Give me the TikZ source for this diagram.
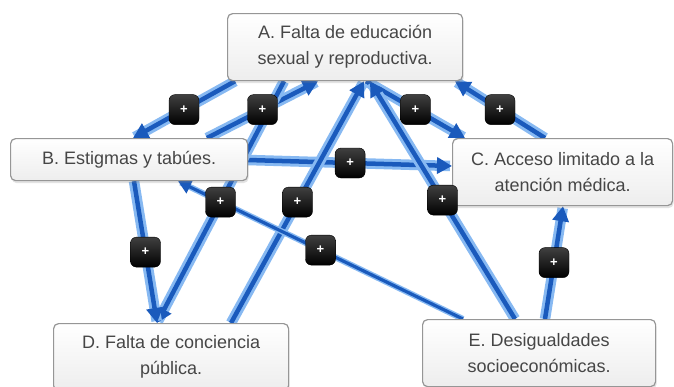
\documentclass[tikz,border=0pt]{standalone}
\usepackage{fontspec}
\setmainfont{Liberation Sans}
\usetikzlibrary{arrows.meta,calc,shadows,backgrounds}
\definecolor{linecore}{RGB}{26,90,188}
\definecolor{linehalo}{RGB}{135,185,242}
\definecolor{txtgray}{RGB}{70,70,70}
\definecolor{boxborder}{RGB}{150,150,150}
\tikzset{
  box/.style={draw=boxborder, line width=1.2pt, rounded corners=5pt,
    top color=white, bottom color=gray!14, anchor=north west, align=center,
    font=\fontsize{18}{26}\selectfont, text=txtgray, inner sep=0pt,
    drop shadow={opacity=0.22, shadow xshift=1pt, shadow yshift=-2.5pt}},
  link/.style={line width=4.5pt, draw=linecore, -{Triangle[length=15pt,width=16pt]},
    preaction={draw=linehalo, line width=10.5pt, -{}, shorten >=2pt}},
  thinlink/.style={line width=3.2pt, draw=linecore, -{Triangle[length=13pt,width=14pt]},
    preaction={draw=linehalo, line width=6pt, -{}, shorten >=3pt}},
  badge/.style={rounded corners=6pt, minimum width=30pt, minimum height=30pt,
    inner sep=0pt, top color=black!75, bottom color=black, draw=black,
    text=white, font=\bfseries\fontsize{13}{13}\selectfont}
}
\begin{document}
\begin{tikzpicture}[x=1pt,y=-1pt]
\useasboundingbox (0,0) rectangle (674,386);
\clip (0,0) rectangle (674,386);
% boxes
\node[box, minimum width=235pt, minimum height=67pt] (A) at (227,13) {A. Falta de educación\\sexual y reproductiva.};
\node[box, minimum width=237pt, minimum height=42pt] (B) at (10,138) {B. Estigmas y tabúes.};
\node[box, minimum width=220pt, minimum height=67pt] (C) at (452,138) {C. Acceso limitado a la\\atención médica.};
\node[box, minimum width=235pt, minimum height=67pt] (D) at (53,323) {D. Falta de conciencia\\pública.};
\node[box, minimum width=233pt, minimum height=67pt] (E) at (422,319) {E. Desigualdades\\socioeconómicas.};
% connectors
\begin{scope}[on background layer]
\fill[white] (0,0) rectangle (674,386);
\draw[link] ($(A.south west)+(8,0)$) -- coordinate[pos=0.5] (m1) ($(B.north west)+(123,0)$);
\draw[link] ($(B.north west)+(197,0)$) -- coordinate[pos=0.5] (m2) ($(A.south west)+(91,0)$);
\draw[link] ($(A.south west)+(139,0)$) -- coordinate[pos=0.5] (m3) ($(C.north west)+(13,0)$);
\draw[link] ($(C.north west)+(93,0)$) -- coordinate[pos=0.5] (m4) ($(A.south west)+(228,0)$);
\draw[link] ($(B.north east)+(0,22)$) -- coordinate[pos=0.5] (m5) ($(C.north west)+(0,28)$);
\draw[link] ($(A.south west)+(57,0)$) -- coordinate[pos=0.5] (m6) ($(D.north west)+(104,0)$);
\draw[link] ($(D.north west)+(178,0)$) -- coordinate[pos=0.5] (m7) ($(A.south west)+(137,0)$);
\draw[link] ($(E.north west)+(93,0)$) -- coordinate[pos=0.5] (m8) ($(A.south west)+(143,0)$);
\draw[link] ($(B.south west)+(124,0)$) -- coordinate[pos=0.5] (m9) ($(D.north west)+(104,0)$);
\draw[thinlink] ($(E.north west)+(41,0)$) -- coordinate[pos=0.5] (m10) ($(B.south west)+(168,0)$);
\draw[link] ($(E.north west)+(123,0)$) -- coordinate[pos=0.5] (m11) ($(C.south west)+(111,0)$);
\end{scope}
% badges
\foreach \i in {1,...,11} \node[badge] (b\i) at (m\i) {+};
\end{tikzpicture}
\end{document}
